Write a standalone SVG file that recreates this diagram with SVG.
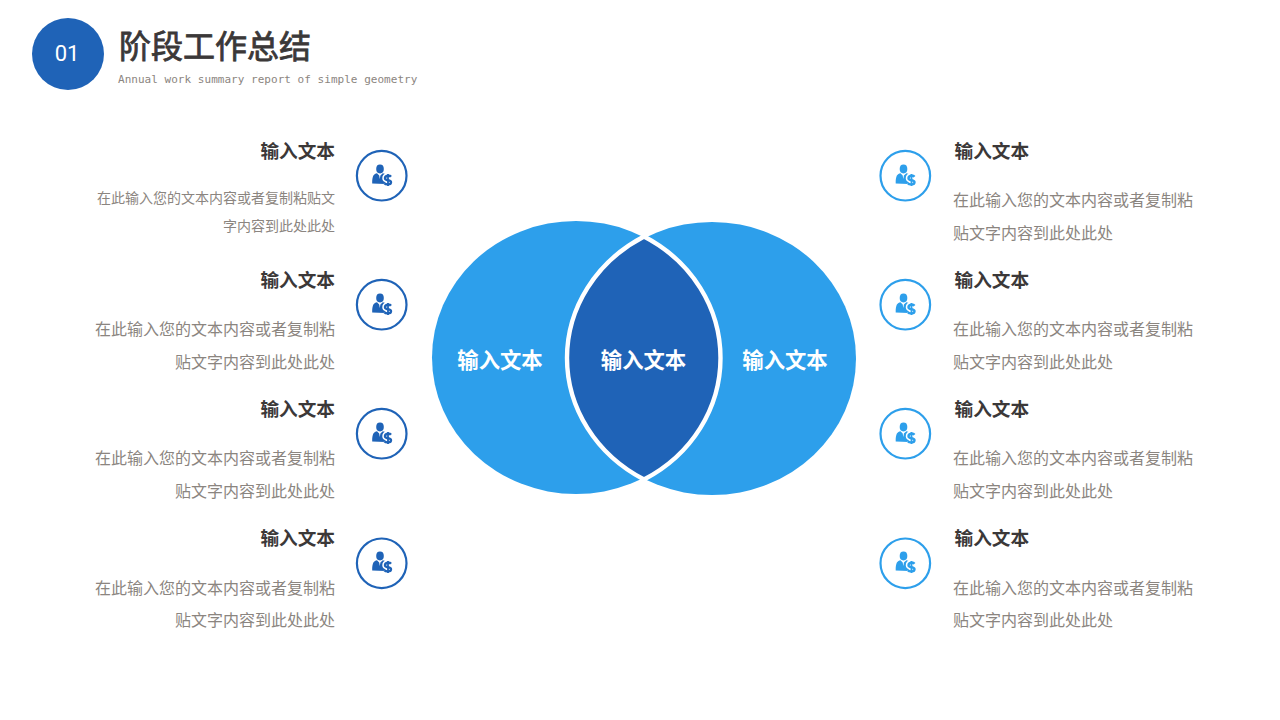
<svg xmlns="http://www.w3.org/2000/svg" width="1280" height="720" viewBox="0 0 1280 720">
<style>
text{font-family:"Noto Sans CJK SC","Liberation Sans",sans-serif}
.h{font-size:18.67px;font-weight:700;fill:#3b3838}
.b{font-size:16px;fill:#8b8580}
.s{font-size:14px;fill:#8b8580}
.e{text-anchor:end}
.c{font-size:21.33px;font-weight:700;fill:#fff;text-anchor:middle}
.rd{fill:#fff;stroke:#1f63b7;stroke-width:2.2}
.rl{fill:#fff;stroke:#2d9feb;stroke-width:2.2}
</style>
<defs>
<g id="ic">
<ellipse cx="-2" cy="-7" rx="3.8" ry="4.400"/>
<path d="M-5-2.800 L-2.800-.5 L-2.200 3 L-1.600-.5 L.8-2.800 C3.500-2.400 5-1.500 5.500 0 L3 8 L-9.800 7.500 C-10-.5 -8-2.200 -5-2.800Z"/>
<g transform="translate(6 4)">
<path d="M3-3.300 C1.800-4.800 -3-4.800 -3-1.800 C-3 1.200 3-.8 3 2.200 C3 5 -2.300 4.800 -3.600 3.200" fill="none" stroke="#fff" stroke-width="5.500"/>
<path d="M3-3.300 C1.800-4.800 -3-4.800 -3-1.800 C-3 1.200 3-.8 3 2.200 C3 5 -2.300 4.800 -3.600 3.200" fill="none" stroke="currentColor" stroke-width="2.400"/>
<path d="M-.9-6h1.800v12h-1.800z"/>
</g>
</g>
</defs>
<rect width="1280" height="720" fill="#fff"/>
<g id="header">
<circle cx="68" cy="54" r="36" fill="#1f63b7"/>
<text x="67" y="61" font-size="22" font-weight="400" fill="#fff" text-anchor="middle" style="font-family:Roboto,'Liberation Sans',sans-serif">01</text>
<text x="119" y="58" font-size="32" fill="#3b3838" stroke="#3b3838" stroke-width=".8">阶段工作总结</text>
<text x="118" y="83" font-size="11" letter-spacing=".03" fill="#8b8580" style="font-family:'DejaVu Sans Mono',monospace">Annual work summary report of simple geometry</text>
</g>
<g id="venn">
<ellipse id="venn-left" cx="576" cy="357.500" rx="144" ry="136.500" fill="#2d9feb"/>
<ellipse id="venn-right" cx="712" cy="358.500" rx="144" ry="136.500" fill="#2d9feb"/>
<path id="venn-center" d="M644 236.500 C692 261.500 720.500 308 720.500 358 C720.500 408 692 454.500 644 479.500 C596 454.500 567 408 567 358 C567 308 596 261.500 644 236.500Z" fill="#1f63b7" stroke="#fff" stroke-width="4.400"/>
<text class="c" x="500" y="368">输入文本</text>
<text class="c" x="643.500" y="368">输入文本</text>
<text class="c" x="785" y="368">输入文本</text>
</g>
<g id="left-1"><text class="h e" x="335" y="158">输入文本</text><text class="s e" x="335" y="203">在此输入您的文本内容或者复制粘贴文</text><text class="s e" x="335" y="231">字内容到此处此处</text><circle class="rd" cx="381.700" cy="175.700" r="24.800"/><use href="#ic" x="382" y="176" fill="#1f63b7" color="#1f63b7"/></g>
<g id="left-2"><text class="h e" x="335" y="287">输入文本</text><text class="b e" x="335" y="335">在此输入您的文本内容或者复制粘</text><text class="b e" x="335" y="368">贴文字内容到此处此处</text><circle class="rd" cx="381.700" cy="304.700" r="24.800"/><use href="#ic" x="382" y="305" fill="#1f63b7" color="#1f63b7"/></g>
<g id="left-3"><text class="h e" x="335" y="416">输入文本</text><text class="b e" x="335" y="464">在此输入您的文本内容或者复制粘</text><text class="b e" x="335" y="497">贴文字内容到此处此处</text><circle class="rd" cx="381.700" cy="433.700" r="24.800"/><use href="#ic" x="382" y="434" fill="#1f63b7" color="#1f63b7"/></g>
<g id="left-4"><text class="h e" x="335" y="545">输入文本</text><text class="b e" x="335" y="594">在此输入您的文本内容或者复制粘</text><text class="b e" x="335" y="626">贴文字内容到此处此处</text><circle class="rd" cx="381.700" cy="563.300" r="24.800"/><use href="#ic" x="382" y="563" fill="#1f63b7" color="#1f63b7"/></g>
<g id="right-1"><text class="h" x="954.500" y="158">输入文本</text><text class="b" x="953" y="206">在此输入您的文本内容或者复制粘</text><text class="b" x="953" y="239">贴文字内容到此处此处</text><circle class="rl" cx="905.300" cy="175.700" r="24.800"/><use href="#ic" x="905.500" y="176" fill="#2d9feb" color="#2d9feb"/></g>
<g id="right-2"><text class="h" x="954.500" y="287">输入文本</text><text class="b" x="953" y="335">在此输入您的文本内容或者复制粘</text><text class="b" x="953" y="368">贴文字内容到此处此处</text><circle class="rl" cx="905.300" cy="304.700" r="24.800"/><use href="#ic" x="905.500" y="305" fill="#2d9feb" color="#2d9feb"/></g>
<g id="right-3"><text class="h" x="954.500" y="416">输入文本</text><text class="b" x="953" y="464">在此输入您的文本内容或者复制粘</text><text class="b" x="953" y="497">贴文字内容到此处此处</text><circle class="rl" cx="905.300" cy="433.700" r="24.800"/><use href="#ic" x="905.500" y="434" fill="#2d9feb" color="#2d9feb"/></g>
<g id="right-4"><text class="h" x="954.500" y="545">输入文本</text><text class="b" x="953" y="594">在此输入您的文本内容或者复制粘</text><text class="b" x="953" y="626">贴文字内容到此处此处</text><circle class="rl" cx="905.300" cy="563.300" r="24.800"/><use href="#ic" x="905.500" y="563" fill="#2d9feb" color="#2d9feb"/></g>
</svg>
